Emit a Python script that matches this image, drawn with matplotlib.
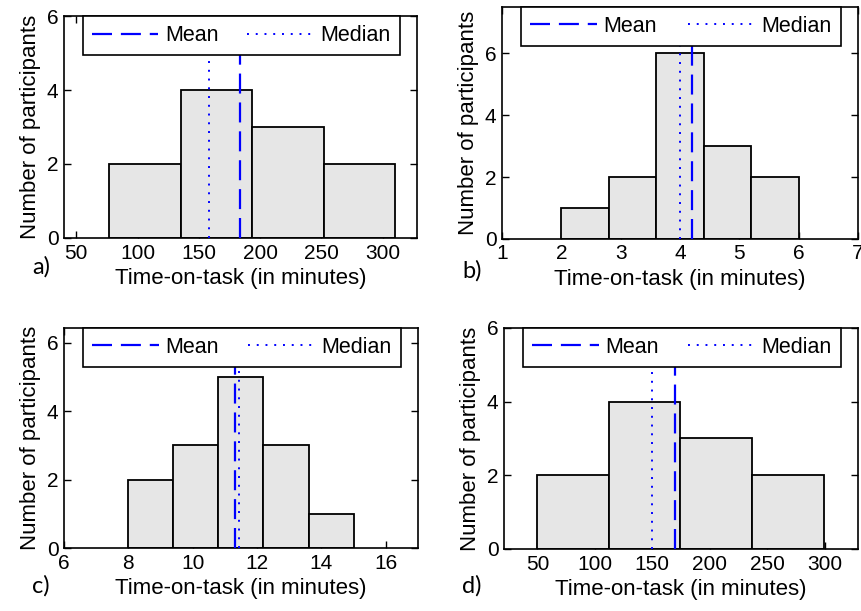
import numpy as np
import matplotlib.pyplot as plt

plt.rcParams['font.family'] = ['Liberation Sans', 'DejaVu Sans']

# histogram bin edges and counts for each panel
edges_a = [77, 135.3, 193.6, 251.9, 310.2]
counts_a = [2, 4, 3, 2]
mean_a, median_a = 184, 158

edges_b = [2.0, 2.8, 3.6, 4.4, 5.2, 6.0]
counts_b = [1, 2, 6, 3, 2]
mean_b, median_b = 4.2, 4.0

edges_c = [8.0, 9.4, 10.8, 12.2, 13.6, 15.0]
counts_c = [2, 3, 5, 3, 1]
mean_c, median_c = 11.3, 11.45

edges_d = [50, 112.3, 174.5, 236.8, 299]
counts_d = [2, 4, 3, 2]
mean_d, median_d = 170, 150

xticks_a = [50, 100, 150, 200, 250, 300]
xticks_b = [1, 2, 3, 4, 5, 6, 7]
xticks_c = [6, 8, 10, 12, 14, 16]
xticks_d = [50, 100, 150, 200, 250, 300]
yticks = [0, 2, 4, 6]

panels = [
    # edges, counts, mean, median, xticks, xlim, ylim, axes rect, letter, letter pos
    (edges_a, counts_a, mean_a, median_a, xticks_a, (40, 328), (0, 6),
     [0.0743, 0.6105, 0.410, 0.3633], 'a)', (0.037, 0.552)),
    (edges_b, counts_b, mean_b, median_b, xticks_b, (1, 7), (0, 7.5),
     [0.583, 0.609, 0.4135, 0.3797], 'b)', (0.537, 0.545)),
    (edges_c, counts_c, mean_c, median_c, xticks_c, (6, 17), (0, 6.43),
     [0.0743, 0.1031, 0.4111, 0.3601], 'c)', (0.037, 0.030)),
    (edges_d, counts_d, mean_d, median_d, xticks_d, (21, 329), (0, 6),
     [0.5854, 0.1015, 0.4111, 0.3617], 'd)', (0.537, 0.030)),
]

fig = plt.figure(figsize=(8.61, 6.11), dpi=100)

for edges, counts, mean, median, xt, xl, yl, rect, letter, lpos in panels:
    ax = fig.add_axes(rect)
    edges = np.array(edges)
    ax.bar(edges[:-1], counts, width=np.diff(edges), align='edge',
           color='#e6e6e6', edgecolor='black', linewidth=1.3, zorder=2)
    ax.axvline(mean, color='blue', linestyle=(0, (9, 4)), linewidth=1.6,
               label='Mean', zorder=3)
    ax.axvline(median, color='blue', linestyle=(0, (1, 3.5)), linewidth=1.4,
               label='Median', zorder=3)
    ax.set_xlim(*xl)
    ax.set_ylim(*yl)
    ax.set_xticks(xt)
    ax.set_yticks(yticks)
    ax.tick_params(direction='in', top=True, right=True, length=5,
                   labelsize=15, width=1.0, pad=4)
    for s in ax.spines.values():
        s.set_linewidth(1.2)
    ax.set_xlabel('Time-on-task (in minutes)', fontsize=16, labelpad=4)
    ax.set_ylabel('Number of participants', fontsize=16, labelpad=4)
    leg = ax.legend(ncol=2, loc='upper left', bbox_to_anchor=(0.053, 0, 0.898, 1.0),
                    mode='expand', borderaxespad=0, fontsize=15.5, frameon=True,
                    fancybox=False, framealpha=1, edgecolor='black',
                    handlelength=3.1, handletextpad=0.3, borderpad=0.42,
                    columnspacing=1.0)
    leg.get_frame().set_linewidth(1.2)
    leg.set_zorder(5)
    fig.text(lpos[0], lpos[1], letter, fontsize=17, family=['Lato', 'DejaVu Sans'])

fig.savefig('out.png', dpi=100)
